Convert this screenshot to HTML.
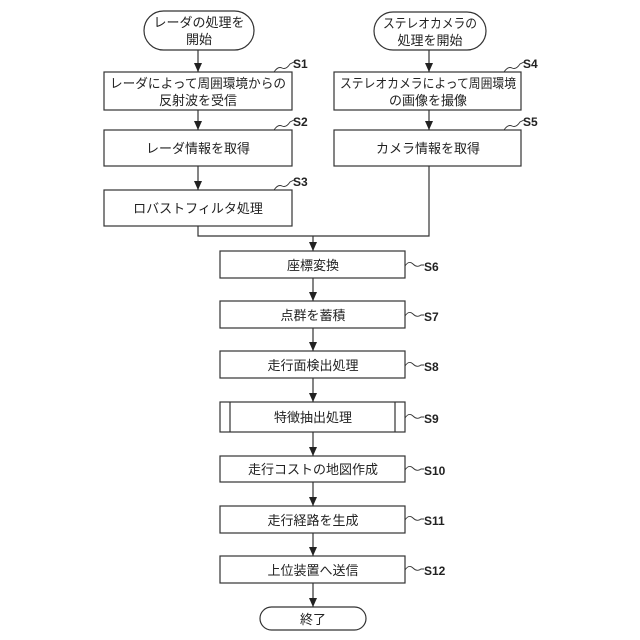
<!DOCTYPE html>
<html><head><meta charset="utf-8"><style>
html,body{margin:0;padding:0;background:#fff;}
svg{display:block}
text{font-family:"Liberation Sans","Noto Sans CJK JP",sans-serif;fill:#222;}
</style></head><body>
<svg width="640" height="640" viewBox="0 0 640 640" xmlns="http://www.w3.org/2000/svg">
<defs><marker id="a" markerWidth="9" markerHeight="8" refX="9" refY="4" orient="auto" markerUnits="userSpaceOnUse">
<path d="M0,0 L9,4 L0,8 Z" fill="#222"/></marker></defs>
<g stroke="#333" stroke-width="1.2" fill="none">
<rect x="144" y="11" width="110" height="39" rx="19.5"/>
<rect x="104" y="72" width="188" height="38"/>
<rect x="104" y="130" width="188" height="36"/>
<rect x="104" y="190" width="188" height="36"/>
<rect x="374" y="12" width="112" height="38" rx="19"/>
<rect x="334" y="72" width="187" height="38"/>
<rect x="334" y="130" width="187" height="36"/>
<rect x="220" y="251" width="185" height="27"/>
<rect x="220" y="301" width="185" height="27"/>
<rect x="220" y="351" width="185" height="27"/>
<rect x="220" y="402" width="185" height="30"/>
<line x1="230" y1="402" x2="230" y2="432"/>
<line x1="395" y1="402" x2="395" y2="432"/>
<rect x="220" y="456" width="185" height="26"/>
<rect x="220" y="506" width="185" height="27"/>
<rect x="220" y="556" width="185" height="27"/>
<rect x="260" y="607" width="106" height="23" rx="11.5"/>
<g marker-end="url(#a)">
<line x1="198" y1="50" x2="198" y2="72"/>
<line x1="198" y1="110" x2="198" y2="130"/>
<line x1="198" y1="166" x2="198" y2="190"/>
<line x1="429" y1="50" x2="429" y2="72"/>
<line x1="429" y1="110" x2="429" y2="130"/>
<line x1="313" y1="236" x2="313" y2="251"/>
<line x1="313" y1="278" x2="313" y2="301"/>
<line x1="313" y1="328" x2="313" y2="351"/>
<line x1="313" y1="378" x2="313" y2="402"/>
<line x1="313" y1="432" x2="313" y2="456"/>
<line x1="313" y1="482" x2="313" y2="506"/>
<line x1="313" y1="533" x2="313" y2="556"/>
<line x1="313" y1="583" x2="313" y2="607"/>
</g>
<polyline points="198,226 198,236 429,236 429,166"/>
<g stroke-width="0.9">
<path d="M274,72 q4,-6 8,-4 t8,-4 l4,-2"/>
<path d="M274,130 q4,-6 8,-4 t8,-4 l4,-2"/>
<path d="M274,190 q4,-6 8,-4 t8,-4 l4,-2"/>
<path d="M504,72 q4,-6 8,-4 t8,-4 l4,-2"/>
<path d="M504,130 q4,-6 8,-4 t8,-4 l4,-2"/>
<path d="M405,266 q4,-6 8,-2 t8,1 l3,0"/>
<path d="M405,316 q4,-6 8,-2 t8,1 l3,0"/>
<path d="M405,366 q4,-6 8,-2 t8,1 l3,0"/>
<path d="M405,418 q4,-6 8,-2 t8,1 l3,0"/>
<path d="M405,470 q4,-6 8,-2 t8,1 l3,0"/>
<path d="M405,520 q4,-6 8,-2 t8,1 l3,0"/>
<path d="M405,570 q4,-6 8,-2 t8,1 l3,0"/>
</g>
</g>
<g font-size="13" text-anchor="middle">
<text x="199" y="27">レーダの処理を</text>
<text x="199" y="44">開始</text>
<text x="430" y="28" textLength="94" lengthAdjust="spacingAndGlyphs">ステレオカメラの</text>
<text x="430" y="45">処理を開始</text>
<text x="198" y="88" textLength="176" lengthAdjust="spacingAndGlyphs">レーダによって周囲環境からの</text>
<text x="198" y="105">反射波を受信</text>
<text x="198" y="153">レーダ情報を取得</text>
<text x="198" y="213">ロバストフィルタ処理</text>
<text x="428" y="88" textLength="176" lengthAdjust="spacingAndGlyphs">ステレオカメラによって周囲環境</text>
<text x="428" y="105">の画像を撮像</text>
<text x="428" y="153">カメラ情報を取得</text>
<text x="313" y="270">座標変換</text>
<text x="313" y="320">点群を蓄積</text>
<text x="313" y="370">走行面検出処理</text>
<text x="313" y="422">特徴抽出処理</text>
<text x="313" y="474">走行コストの地図作成</text>
<text x="313" y="525">走行経路を生成</text>
<text x="313" y="575">上位装置へ送信</text>
<text x="313" y="624">終了</text>
</g>
<g font-size="12" font-weight="bold">
<text x="293" y="68">S1</text>
<text x="293" y="126">S2</text>
<text x="293" y="186">S3</text>
<text x="523" y="68">S4</text>
<text x="523" y="126">S5</text>
<text x="424" y="271">S6</text>
<text x="424" y="321">S7</text>
<text x="424" y="371">S8</text>
<text x="424" y="423">S9</text>
<text x="424" y="475">S10</text>
<text x="424" y="525">S11</text>
<text x="424" y="575">S12</text>
</g>
</svg>
</body></html>
